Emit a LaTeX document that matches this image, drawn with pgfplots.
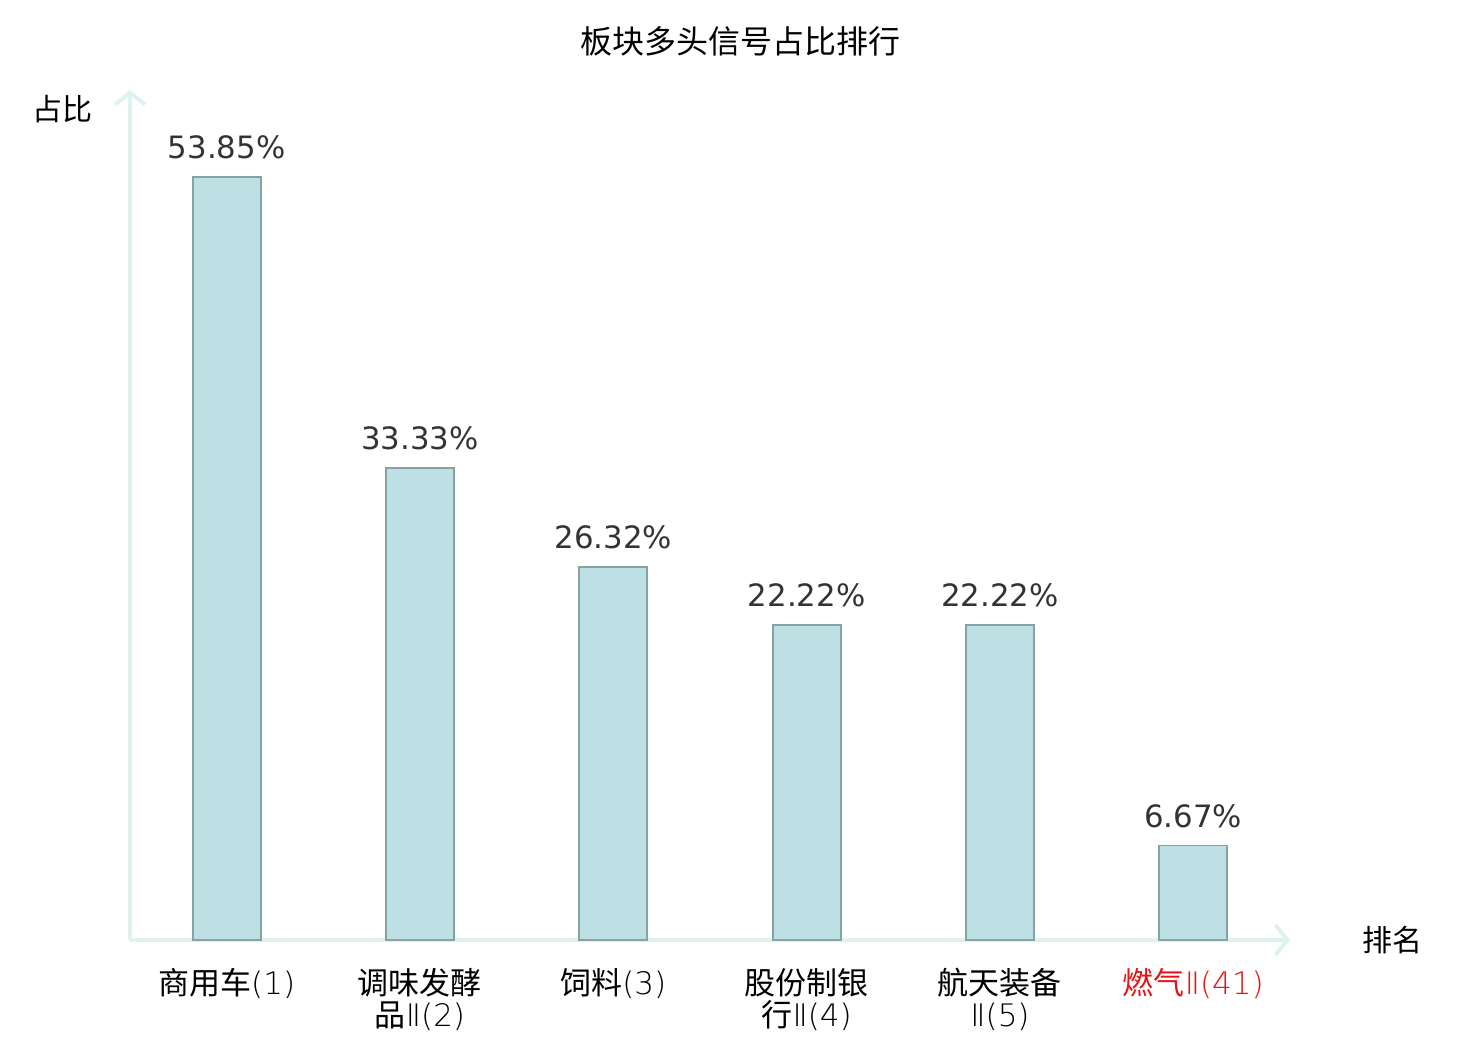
\documentclass[border=0pt]{standalone}
\usepackage{pgfplots}
\pgfplotsset{compat=1.18}
\usetikzlibrary{arrows.meta}
\usepackage{fontspec}
\setmainfont{DejaVu Sans}
\newfontfamily\cjk{Noto Sans CJK SC}
\newfontfamily\djl{DejaVu Sans ExtraLight}
\definecolor{barfill}{RGB}{188,224,227}
\definecolor{baredge}{RGB}{136,161,163}
\definecolor{axcol}{RGB}{222,242,239}
\definecolor{lbl}{RGB}{51,51,51}
\definecolor{redlbl}{RGB}{230,20,20}
\begin{document}
\begin{tikzpicture}
\path[use as bounding box] (0pt,0pt) rectangle (740pt,520pt);
\begin{axis}[
  at={(65pt,50pt)}, anchor=south west,
  scale only axis, width=580pt, height=425pt,
  xmin=-0.5, xmax=5.5, ymin=0, ymax=60,
  clip=false,
  axis lines=left,
  axis line style={draw=axcol, line width=2pt, -{Straight Barb[length=6pt, width=15pt, line width=2pt]}},
  ytick=\empty,
  xtick={0,1,2,3,4,5},
  major tick length=0pt,
  xticklabels={{商用车{\djl(1)}},{调味发酵\\品{\djl Ⅱ(2)}},{饲料{\djl(3)}},{股份制银\\行{\djl Ⅱ(4)}},{航天装备\\{\djl Ⅱ(5)}},{\color{redlbl}燃气{\djl Ⅱ(41)}}},
  xticklabel style={font=\fontsize{15.5}{16}\selectfont\cjk, align=center, anchor=north, inner sep=0pt, yshift=-14pt},
  title={\cjk 板块多头信号占比排行},
  title style={at={(axis description cs:0.526,1.0435)}, anchor=center, font=\fontsize{16}{16}\selectfont},
  ylabel={\cjk 占比},
  ylabel style={rotate=-90, at={(axis description cs:-0.0578,0.978)}, anchor=center, font=\fontsize{15}{15}\selectfont},
  xlabel={\cjk 排名},
  xlabel style={at={(axis description cs:1.088,0)}, anchor=center, font=\fontsize{15}{15}\selectfont},
  ybar, bar width=34pt,
  nodes near coords={\pgfmathprintnumber[fixed,fixed zerofill,precision=2,assume math mode=true]{\pgfplotspointmeta}\%},
  nodes near coords style={font=\fontsize{15.4}{15.4}\selectfont, color=lbl, anchor=south, inner sep=0pt, yshift=8.5pt},
]
\addplot[fill=barfill, draw=baredge, line width=0.9pt] coordinates {(0,53.85) (1,33.33) (2,26.32) (3,22.22) (4,22.22) (5,6.67)};
\end{axis}
\end{tikzpicture}
\end{document}
